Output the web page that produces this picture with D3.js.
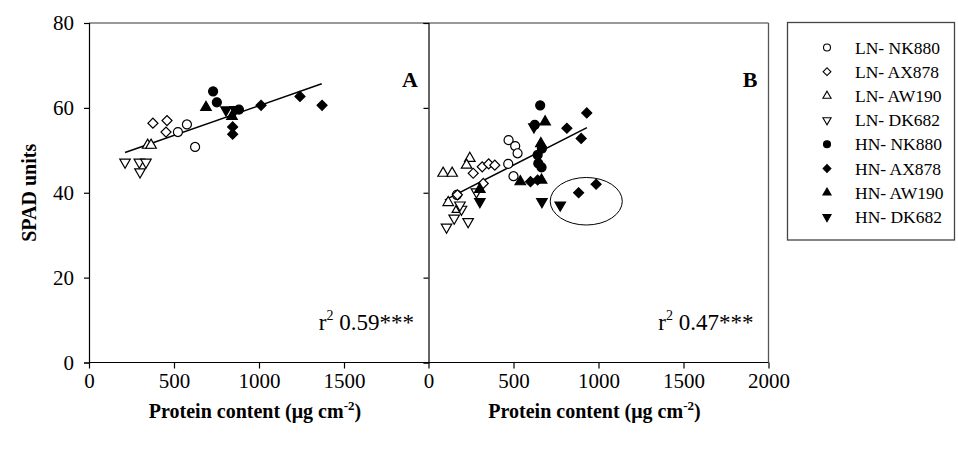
<!DOCTYPE html>
<html>
<head>
<meta charset="utf-8">
<script src="https://cdn.jsdelivr.net/npm/d3@7"></script>
<style>
  body { margin: 0; background: #fff; }
  svg { font-family: "Liberation Serif", "Times New Roman", serif; }
</style>
</head>
<body>
<div class="chart"></div>
<script>
// series names
const seriesNames = ["LN- NK880", "LN- AX878", "LN- AW190", "LN- DK682",
                     "HN- NK880", "HN- AX878", "HN- AW190", "HN- DK682"];

// panel A points [protein, spad]
const aLnNK880 = [[523,54.3],[576,56.1],[624,50.8]];
const aLnAX878 = [[376,56.4],[459,57.0],[453,54.3]];
const aLnAW190 = [[345,51.2],[365,51.2]];
const aLnDK682 = [[212,47.2],[296,47.2],[335,47.2],[300,44.9]];
const aHnNK880 = [[730,63.9],[752,61.3],[882,59.6]];
const aHnAX878 = [[1012,60.6],[1241,62.7],[1371,60.6],[845,55.5],[845,53.8]];
const aHnAW190 = [[688,60.1],[841,58.0]];
const aHnDK682 = [[806,59.5],[860,59.6]];

// panel B points
const bLnNK880 = [[471,52.4],[510,51.0],[524,49.3],[500,43.9],[469,46.8],[167,39.5]];
const bLnAX878 = [[263,44.6],[316,46.1],[354,46.8],[390,46.5],[322,42.2],[170,39.5]];
const bLnAW190 = [[86,44.6],[139,44.6],[243,48.1],[224,46.5],[116,37.7],[170,36.1]];
const bLnDK682 = [[106,31.9],[151,34.0],[233,33.2],[194,36.1],[185,37.1],[282,40.2]];
const bHnNK880 = [[657,60.6],[625,56.0],[667,50.4],[642,48.9],[646,46.9],[665,46.0]];
const bHnAX878 = [[931,58.8],[814,55.2],[898,52.8],[642,43.0],[600,42.6],[883,40.0],[986,42.0]];
const bHnAW190 = [[686,56.7],[661,51.6],[665,43.0],[540,42.6],[302,40.8]];
const bHnDK682 = [[620,55.5],[302,37.9],[667,37.9],[775,37.1]];

// regression lines: [intercept, slope, xStart, xEnd]
const fitA = [46.5, 0.0140, 212, 1369];
const fitB = [36.3, 0.02045, 96, 932];
// circled group in B: [cx, cy, rx, ry] in data units
const circledB = [928, 38.0, 212, 5.6];

const xTicksA = [0, 500, 1000, 1500];
const xTicksB = [0, 500, 1000, 1500, 2000];
const yTicks = [0, 20, 40, 60, 80];
const r2Labels = ["0.59***", "0.47***"];
const panelLabels = ["A", "B"];

const width = 958, height = 449;
const plotTop = 23, plotBottom = 362.5;
const panelLeft = [89, 428.5], panelW = 340;

const svg = d3.select(".chart").append("svg")
  .attr("width", width).attr("height", height);

const y = d3.scaleLinear().domain([0, 80]).range([plotBottom, plotTop]);

const symTypes = [d3.symbolCircle, d3.symbolSquare, d3.symbolTriangle, d3.symbolTriangle,
                  d3.symbolCircle, d3.symbolSquare, d3.symbolTriangle, d3.symbolTriangle];
const symRot = [0, 45, 0, 180, 0, 45, 0, 180];
const symSize = [64, 50, 48, 48, 64, 50, 48, 48];
const filled = i => i >= 4;

const panels = [
  { data: [aLnNK880, aLnAX878, aLnAW190, aLnDK682, aHnNK880, aHnAX878, aHnAW190, aHnDK682], fit: fitA, ticks: xTicksA },
  { data: [bLnNK880, bLnAX878, bLnAW190, bLnDK682, bHnNK880, bHnAX878, bHnAW190, bHnDK682], fit: fitB, ticks: xTicksB }
];

panels.forEach((p, k) => {
  const x = d3.scaleLinear().domain([0, 2000]).range([panelLeft[k], panelLeft[k] + panelW]);
  const g = svg.append("g");

  // frame top / right
  g.append("line").attr("x1", x(0)).attr("x2", x(2000)).attr("y1", plotTop).attr("y2", plotTop)
    .attr("stroke", "#777").attr("stroke-width", 1.3);
  if (k === 1) {
    g.append("line").attr("x1", x(2000)).attr("x2", x(2000)).attr("y1", plotTop).attr("y2", plotBottom)
      .attr("stroke", "#555").attr("stroke-width", 1.3);
  }

  const xAxis = g.append("g").attr("transform", `translate(0,${plotBottom})`)
    .call(d3.axisBottom(x).tickValues(p.ticks).tickSizeOuter(0).tickSize(6).tickPadding(5)
      .tickFormat(d3.format("d")));
  const yAxis = g.append("g").attr("transform", `translate(${x(0)},0)`)
    .call(d3.axisLeft(y).tickValues(yTicks).tickSizeOuter(0).tickSize(5).tickPadding(10)
      .tickFormat(k === 0 ? d3.format("d") : ""));
  [xAxis, yAxis].forEach(a => {
    a.selectAll("path,line").attr("stroke", "#000").attr("stroke-width", 1.2);
    a.selectAll("text").attr("fill", "#000").style("font-size", "21px")
      .style("font-family", "Liberation Serif");
  });
  xAxis.select(".domain").attr("d", `M${x(0)},0H${x(2000)}`);

  // regression line
  const [b0, b1, xs, xe] = p.fit;
  g.append("line").attr("x1", x(xs)).attr("y1", y(b0 + b1 * xs))
    .attr("x2", x(xe)).attr("y2", y(b0 + b1 * xe))
    .attr("stroke", "#000").attr("stroke-width", 1.5);

  // markers
  p.data.forEach((pts, i) => {
    g.selectAll(null).data(pts).enter().append("path")
      .attr("d", d3.symbol().type(symTypes[i]).size(symSize[i]))
      .attr("transform", d => `translate(${x(d[0])},${y(d[1])}) rotate(${symRot[i]})`)
      .attr("fill", filled(i) ? "#000" : "#fff")
      .attr("stroke", "#000").attr("stroke-width", 1.2);
  });

  if (k === 1) {
    const [cx, cy, rx, ry] = circledB;
    g.append("ellipse").attr("cx", x(cx)).attr("cy", y(cy))
      .attr("rx", x(cx + rx) - x(cx)).attr("ry", y(cy - ry) - y(cy))
      .attr("fill", "none").attr("stroke", "#000").attr("stroke-width", 1);
  }

  // panel letter
  g.append("text").attr("x", x(2000) - 11).attr("y", 87).attr("text-anchor", "end")
    .attr("font-weight", "bold").style("font-size", "22px").text(panelLabels[k]);

  // r2 text
  const t = g.append("text").attr("x", x(2000) - 15).attr("y", 330).attr("text-anchor", "end")
    .style("font-size", "23px");
  t.append("tspan").text("r");
  t.append("tspan").attr("dy", -10).style("font-size", "14px").text("2");
  t.append("tspan").attr("dy", 10).text(" " + r2Labels[k]);

  // x title
  const xt = g.append("text").attr("x", x(1000) - 4).attr("y", 418).attr("text-anchor", "middle")
    .attr("font-weight", "bold").style("font-size", "20px");
  xt.append("tspan").text("Protein content (\u03bcg cm");
  xt.append("tspan").attr("dy", -8).style("font-size", "13px").text("-2");
  xt.append("tspan").attr("dy", 8).text(")");
});

// y title
svg.append("text").attr("transform", `translate(36,${(plotTop + plotBottom) / 2}) rotate(-90)`)
  .attr("text-anchor", "middle").attr("font-weight", "bold").style("font-size", "20px")
  .text("SPAD units");

// legend
const lg = svg.append("g");
lg.append("rect").attr("x", 787.5).attr("y", 22.5).attr("width", 167).attr("height", 217.5)
  .attr("fill", "none").attr("stroke", "#444").attr("stroke-width", 1.3);
seriesNames.forEach((name, i) => {
  const yy = 47.5 + i * 24.2;
  lg.append("path").attr("d", d3.symbol().type(symTypes[i]).size(symSize[i] * 0.6))
    .attr("transform", `translate(827,${yy}) rotate(${symRot[i]})`)
    .attr("fill", filled(i) ? "#000" : "#fff").attr("stroke", "#000").attr("stroke-width", 1.1);
  lg.append("text").attr("x", 855).attr("y", yy + 6).style("font-size", "17.5px").text(name);
});
</script>
</body>
</html>
